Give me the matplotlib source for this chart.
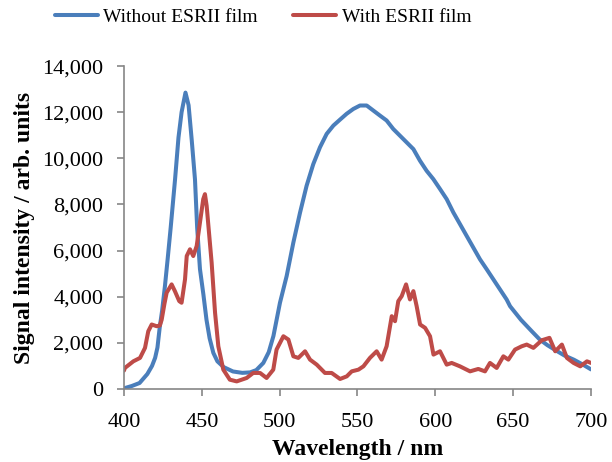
import numpy as np
import matplotlib.pyplot as plt
from matplotlib.ticker import FuncFormatter


# emission spectrum of the LED alone
wl_without = [400, 405, 410, 415, 418, 420, 421.5, 423, 424.5, 426.3, 428,
              430, 432.8, 435, 437, 439.5, 441.5, 443.5, 445.6, 447, 448.8,
              451, 453, 455, 457.4, 460, 464, 470, 476, 481, 485, 489.5, 493,
              496, 500.2, 504.5, 508.8, 513.1, 517.3, 521.6, 525.9, 530.2,
              534.5, 538.8, 543, 547.3, 551.6, 555.9, 560.2, 564.5, 568.7,
              573, 577.3, 581.6, 585.9, 590.1, 594.4, 598.7, 603, 607.3, 611.6,
              615.9, 620.1, 624.4, 628.7, 633, 637.3, 641.5, 645.8, 648, 655,
              662, 667, 672, 678, 683, 689, 695, 700]
sig_without = [30, 130, 260, 650, 1000, 1350, 1800, 2700, 3400, 4460, 5600,
               7000, 9087, 10900, 12000, 12850, 12300, 10800, 9087, 7000,
               5200, 4100, 3000, 2200, 1565, 1200, 950, 760, 700, 720, 820,
               1130, 1600, 2300, 3740, 4900, 6350, 7650, 8810, 9750, 10480,
               11060, 11420, 11680, 11930, 12140, 12290, 12290, 12070, 11850,
               11640, 11270, 10980, 10690, 10400, 9900, 9460, 9100, 8670,
               8230, 7650, 7140, 6640, 6130, 5620, 5190, 4750, 4320, 3880,
               3590, 3000, 2500, 2150, 1900, 1650, 1450, 1270, 1050, 850]

# spectrum measured through the ESRII film
wl_with = [400, 400.6, 406, 410.3, 413.5, 415.6, 417.8, 421, 423, 424.2, 426,
           427.4, 430.6, 432.7, 435.5, 437, 439.2, 440.3, 442.4, 444.5, 446.7,
           448.8, 450.9, 452, 453.1, 456.3, 458.5, 460.6, 463.8, 468, 472.4,
           478.8, 483, 487.4, 491.6, 495.9, 498, 502.4, 505.6, 508.8, 512,
           516.3, 519.5, 523.8, 529.1, 533.4, 538.8, 543.1, 546.3, 550.6,
           553.8, 558, 562.3, 565.5, 568.7, 572, 574.1, 576.2, 578.4, 581.2,
           583.7, 585.9, 588, 590.2, 593.4, 596.6, 598.8, 603, 607.3, 610.5,
           615.8, 622.3, 627.6, 631.9, 635.1, 639.4, 643.7, 646.9, 651.2,
           655.5, 658.7, 663, 668.4, 673.3, 677, 681.3, 684.5, 688.8, 693.1,
           697.4, 700]
sig_with = [800, 913, 1200, 1348, 1783, 2504, 2796, 2722, 2750, 3000, 3700,
            4174, 4535, 4243, 3809, 3739, 4752, 5765, 6057, 5765, 6200, 7217,
            8230, 8448, 7939, 5478, 3304, 1852, 839, 404, 330, 478, 696, 696,
            478, 839, 1709, 2287, 2143, 1417, 1348, 1635, 1274, 1057, 696, 696,
            435, 548, 765, 839, 983, 1348, 1635, 1274, 1852, 3157, 2939, 3809,
            4026, 4535, 3883, 4243, 3591, 2796, 2652, 2287, 1491, 1635, 1057,
            1130, 983, 765, 870, 765, 1130, 913, 1417, 1274, 1709, 1852, 1926,
            1783, 2113, 2217, 1635, 1926, 1348, 1130, 983, 1200, 1130]

xticks = [400, 450, 500, 550, 600, 650, 700]
yticks = [0, 2000, 4000, 6000, 8000, 10000, 12000, 14000]

plt.rcParams['font.family'] = ['Liberation Serif', 'DejaVu Serif']

fig = plt.figure(figsize=(6.12, 4.62), dpi=100)
ax = fig.add_axes([0.2026, 0.158, 0.7631, 0.699])

ax.plot(wl_without, sig_without, color='#4A7EBB', lw=2.9,
        solid_capstyle='round', solid_joinstyle='round',
        label='Without ESRII film')
ax.plot(wl_with, sig_with, color='#BE4B48', lw=2.9,
        solid_capstyle='round', solid_joinstyle='round',
        label='With ESRII film')

ax.set_xlim(400, 700)
ax.set_ylim(0, 14000)
ax.set_xticks(xticks)
ax.set_yticks(yticks)
ax.yaxis.set_major_formatter(FuncFormatter(lambda v, p: f'{int(v):,}'))

for s in ['top', 'right']:
    ax.spines[s].set_visible(False)
for s in ['left', 'bottom']:
    ax.spines[s].set_color('#868686')
    ax.spines[s].set_linewidth(1.2)
ax.tick_params(direction='out', length=5, width=1.2, color='#868686',
               labelsize=16)
ax.tick_params(axis='y', pad=10)
ax.tick_params(axis='x', pad=12)

ax.set_xlabel('Wavelength / nm', fontsize=17, fontweight='bold', labelpad=5)
ax.set_ylabel('Signal intensity / arb. units', fontsize=17,
              fontweight='bold', labelpad=5)

fig.legend(loc='center', bbox_to_anchor=(263 / 612, 1 - 17 / 462), ncol=2,
           frameon=False, fontsize=14, handlelength=2.2,
           handletextpad=0.3, columnspacing=1.8)

fig.savefig('out.png', dpi=100)
